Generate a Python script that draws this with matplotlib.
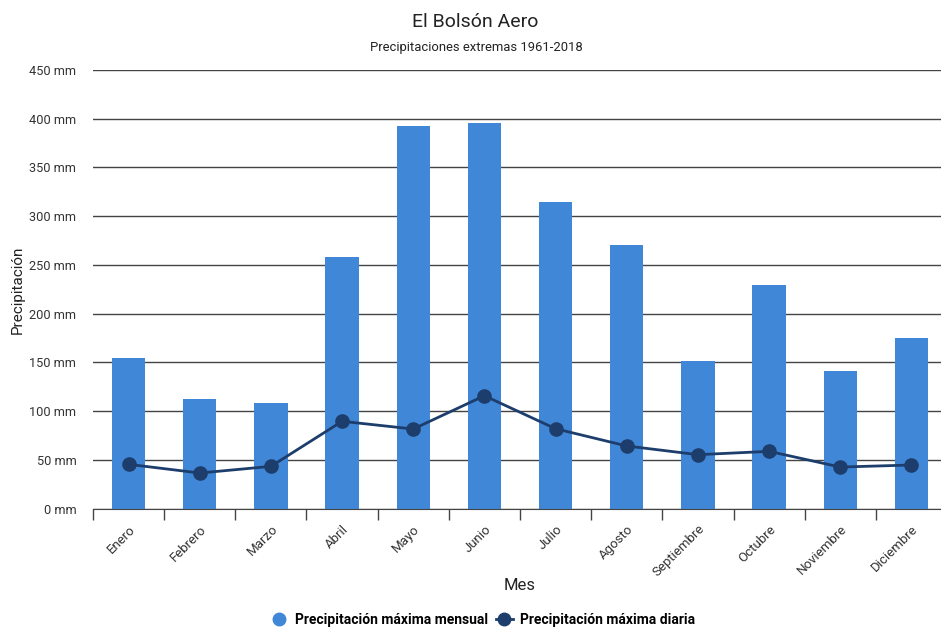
"""
El Bolsón Aero - precipitaciones extremas 1961-2018
"""
import matplotlib
matplotlib.use("Agg")
import matplotlib.pyplot as plt
from matplotlib.lines import Line2D
import numpy as np

meses = ["Enero", "Febrero", "Marzo", "Abril", "Mayo", "Junio", "Julio",
         "Agosto", "Septiembre", "Octubre", "Noviembre", "Diciembre"]
max_mensual = [154, 112, 108, 258, 392, 395, 314, 270, 151, 229, 141, 175]
max_diaria = [45.5, 36.6, 43.4, 89.6, 81.7, 115.8, 82, 64.3, 55.4, 58.8, 42.7, 44.8]
y_ticks = [0, 50, 100, 150, 200, 250, 300, 350, 400, 450]

BAR_COLOR = "#4087d7"
LINE_COLOR = "#1d3e6c"
GRID_COLOR = "#444444"

plt.rcParams["font.family"] = ["Roboto", "DejaVu Sans"]


def main():
    W, H = 941, 628
    fig = plt.figure(figsize=(W / 100, H / 100), dpi=100)
    ax = fig.add_axes([93 / W, 119.3 / H, 854 / W, 438.9 / H])

    x = np.arange(len(meses))
    ax.bar(x, max_mensual, width=0.47, color=BAR_COLOR, zorder=2)
    ax.plot(x, max_diaria, color=LINE_COLOR, lw=2, marker="o", ms=9.5, zorder=3)

    ax.set_xlim(-0.5, len(meses) - 0.5)
    ax.set_ylim(0, 450)
    ax.set_yticks(y_ticks)
    ax.set_yticklabels([f"{v} mm" for v in y_ticks], fontsize=9.2, color="#333333")
    ax.yaxis.grid(True, color=GRID_COLOR, lw=1, zorder=1)
    ax.tick_params(axis="y", length=0, pad=12)

    # category boundary ticks, labels centred
    ax.set_xticks(np.arange(len(meses) + 1) - 0.5)
    ax.set_xticklabels([])
    ax.tick_params(axis="x", which="major", length=8, color=GRID_COLOR, width=1)
    ax.set_xticks(x, minor=True)
    ax.set_xticklabels(meses, minor=True, rotation=45, ha="right",
                       rotation_mode="anchor", fontsize=9.5, color="#333333")
    ax.tick_params(axis="x", which="minor", length=0, pad=10)

    for s in ["top", "right", "left"]:
        ax.spines[s].set_visible(False)
    ax.spines["bottom"].set_color(GRID_COLOR)
    ax.spines["bottom"].set_zorder(4)

    fig.text(18 / W, 1 - 290 / H, "Precipitación", fontsize=11, color="#222222",
             rotation=90, ha="center", va="center")
    fig.text(520 / W, 1 - 585 / H, "Mes", fontsize=12, color="#222222",
             ha="center", va="center")

    fig.text(475 / W, 1 - 22 / H, "El Bolsón Aero", fontsize=14,
             color="#222222", ha="center", va="center")
    fig.text(476 / W, 1 - 48 / H, "Precipitaciones extremas 1961-2018",
             fontsize=9.4, color="#222222", ha="center", va="center")

    handles = [
        Line2D([], [], ls="none", marker="o", ms=9, color=BAR_COLOR),
        Line2D([], [], color=LINE_COLOR, lw=2, marker="o", ms=9),
    ]
    labels = ["Precipitación máxima mensual", "Precipitación máxima diaria"]
    fig.legend(handles, labels, loc="center", bbox_to_anchor=(483 / W, 1 - 620 / H),
               ncol=2, frameon=False, handlelength=1.2, handletextpad=0.5,
               columnspacing=0.6, prop={"size": 10, "weight": "bold"})

    fig.savefig("out.png", dpi=100)
    plt.close(fig)


if __name__ == "__main__":
    main()
